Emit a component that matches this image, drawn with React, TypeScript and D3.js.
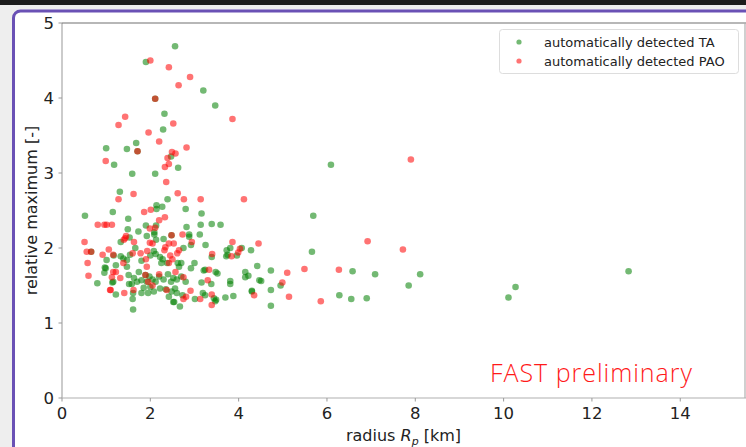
import React from "react";
import * as d3 from "d3";

// Radius [km] and relative maximum for each detected event
const taX = [
  2.56, 1.90, 3.20, 2.11, 3.47, 2.32, 2.29, 1.68, 1.00, 1.47, 1.71, 2.47, 1.18, 2.63, 1.59, 2.11, 1.31, 2.39, 6.09,
  0.52, 1.15, 2.14, 2.14, 2.27, 2.80, 3.16, 1.50, 3.14, 3.39, 3.59, 2.82, 1.90, 2.13, 1.49, 1.73, 2.09, 5.69,
  1.92, 2.09, 2.30, 2.48, 2.88, 2.88, 3.12, 1.53, 1.33, 2.13, 2.92, 3.25, 0.66, 1.66, 2.08, 2.75, 3.73, 3.81, 4.07, 4.28, 5.66, 3.39, 3.75, 3.72, 3.96,
  1.17, 1.01, 1.33, 1.54, 1.39, 1.47, 1.80, 1.22, 0.97, 0.99, 1.47, 2.00, 2.12, 2.22, 2.28, 2.38, 2.25, 2.62, 2.70, 2.65, 2.92, 3.00, 3.24, 3.21, 3.48, 3.52, 4.42, 4.73, 4.15, 6.58, 7.09, 8.11, 12.83,
  0.96, 1.51, 1.74, 1.89, 1.80, 1.92, 1.14, 0.80, 1.52, 1.58, 1.98, 2.05, 2.12, 2.20, 2.30, 2.40, 2.47, 2.52, 2.60, 2.70, 2.80, 3.16, 3.38, 3.81, 3.81, 4.22, 4.15, 4.47, 4.51, 4.95, 7.85, 10.27, 1.16, 1.70, 1.63,
  1.22, 1.61, 1.80, 1.95, 2.08, 2.22, 2.48, 2.56, 1.60, 1.61, 2.52, 2.54, 2.67, 2.73, 3.01, 3.19, 3.24, 3.44, 3.49, 3.47, 3.70, 3.88, 4.30, 4.30, 4.73, 4.73, 6.28, 6.55, 6.90, 10.11, 2.35, 2.00, 1.85, 2.60, 2.42,
];
const taY = [
  4.69, 4.48, 4.10, 3.99, 3.90, 3.79, 3.58, 3.40, 3.33, 3.32, 3.29, 3.22, 3.11, 3.07, 2.99, 2.99, 2.75, 2.65, 3.11,
  2.43, 2.48, 2.57, 2.52, 2.55, 2.52, 2.46, 2.39, 2.31, 2.32, 2.31, 2.28, 2.30, 2.30, 2.25, 2.22, 2.21, 2.43,
  2.16, 2.18, 2.12, 2.17, 2.18, 2.15, 2.18, 2.14, 2.08, 2.11, 2.04, 2.04, 1.95, 2.00, 1.96, 2.00, 1.97, 2.00, 2.00, 1.97, 1.95, 1.88, 1.91, 1.89, 1.90,
  1.90, 1.84, 1.89, 1.91, 1.86, 1.84, 1.83, 1.77, 1.74, 1.73, 1.75, 1.90, 1.92, 1.88, 1.85, 1.80, 1.80, 1.80, 1.80, 1.75, 1.73, 1.80, 1.71, 1.70, 1.68, 1.66, 1.76, 1.70, 1.68, 1.69, 1.65, 1.65, 1.69,
  1.67, 1.64, 1.68, 1.64, 1.57, 1.55, 1.54, 1.53, 1.52, 1.52, 1.62, 1.58, 1.55, 1.62, 1.58, 1.65, 1.55, 1.60, 1.58, 1.62, 1.55, 1.54, 1.52, 1.56, 1.52, 1.63, 1.61, 1.57, 1.56, 1.50, 1.50, 1.48, 1.55, 1.55, 1.60,
  1.38, 1.40, 1.40, 1.40, 1.42, 1.46, 1.42, 1.46, 1.32, 1.18, 1.28, 1.28, 1.22, 1.37, 1.32, 1.40, 1.37, 1.33, 1.31, 1.29, 1.34, 1.36, 1.43, 1.42, 1.44, 1.23, 1.37, 1.32, 1.33, 1.34, 1.45, 1.48, 1.47, 1.40, 1.35,
];
const paoX = [
  2.00, 2.42, 2.90, 2.64, 2.11, 1.43, 3.86, 1.28, 2.52, 1.96, 2.20, 1.71, 2.82, 2.49, 2.57, 2.39, 0.99, 2.42, 2.33, 2.36, 1.62, 2.62, 2.76, 3.14, 4.12, 1.28, 7.90,
  1.86, 2.01, 2.20, 2.33, 0.81, 0.96, 1.01, 1.13, 2.11, 1.99, 1.43, 1.45, 1.40, 1.63, 0.51, 2.48, 2.73, 2.42, 2.53, 2.94, 1.99, 3.86, 4.45, 6.92, 2.05,
  0.56, 0.66, 1.06, 0.92, 1.16, 1.93, 1.78, 1.60, 2.34, 2.32, 2.65, 2.61, 3.40, 4.03, 3.99, 3.84, 7.72, 0.58, 1.39, 1.90, 2.45, 2.50, 2.42, 5.10, 5.49, 6.27, 3.33, 2.57, 1.92,
  0.60, 1.16, 1.22, 1.32, 1.13, 1.89, 1.10, 1.09, 1.41, 1.62, 2.37, 2.75, 2.81, 2.91, 3.13, 3.30, 3.39, 3.39, 4.35, 4.99, 5.14, 5.86, 2.75, 2.05, 2.20, 1.95,
];
const paoY = [
  4.50, 4.41, 4.28, 4.17, 3.99, 3.75, 3.72, 3.64, 3.66, 3.54, 3.42, 3.29, 3.34, 3.28, 3.26, 3.20, 3.16, 3.12, 3.08, 2.88, 2.72, 2.73, 2.65, 2.65, 2.65, 2.65, 3.18,
  2.48, 2.51, 2.37, 2.41, 2.31, 2.31, 2.31, 2.31, 2.27, 2.26, 2.13, 2.16, 2.11, 2.08, 2.08, 2.17, 2.18, 2.06, 2.06, 2.08, 2.07, 2.08, 2.06, 2.09, 2.06,
  1.95, 1.95, 1.98, 1.91, 1.91, 1.96, 1.93, 1.93, 2.01, 1.97, 1.97, 1.93, 1.92, 1.99, 1.94, 1.89, 1.98, 1.80, 1.80, 1.85, 1.90, 1.85, 1.80, 1.67, 1.72, 1.71, 1.71, 1.68, 1.75,
  1.63, 1.68, 1.68, 1.60, 1.61, 1.64, 1.44, 1.44, 1.40, 1.44, 1.44, 1.61, 1.35, 1.43, 1.32, 1.57, 1.38, 1.24, 1.37, 1.54, 1.35, 1.29, 1.32, 1.50, 1.65, 1.55,
];
const xTicks = [0, 2, 4, 6, 8, 10, 12, 14];
const yTicks = [0, 1, 2, 3, 4, 5];
const seriesNames = ["automatically detected TA", "automatically detected PAO"];
const seriesColors = ["#008000", "#ff0000"];

const W = 746;
const H = 447;
const left = 62;
const right = 746.5;
const top = 23;
const bottom = 398;

export default function App() {
  const x = d3.scaleLinear().domain([0, 15.5]).range([left, right]);
  const y = d3.scaleLinear().domain([0, 5]).range([bottom, top]);
  const series = [
    { pts: d3.zip(taX, taY), color: seriesColors[0] },
    { pts: d3.zip(paoX, paoY), color: seriesColors[1] },
  ];
  const font = "'DejaVu Sans', sans-serif";

  return (
    <svg
      width={W}
      height={H}
      style={{ position: "absolute", left: 0, top: 0, display: "block" }}
      fontFamily={font}
    >
      {/* page frame */}
      <rect x={0} y={0} width={W} height={H} fill="#eeeeee" />
      <rect x={0} y={0} width={W} height={5} fill="#1c1c1c" />
      <rect x={13.5} y={11} width={W + 20} height={H + 20} rx={7} fill="#ffffff" stroke="#6a51b5" strokeWidth={3} />

      {/* spines */}
      <line x1={left} x2={left} y1={top} y2={bottom} stroke="#a8a8a8" strokeWidth={1.2} />
      <line x1={left} x2={right} y1={bottom} y2={bottom} stroke="#b0b0b0" strokeWidth={1.2} />
      <line x1={left} x2={right} y1={top} y2={top} stroke="#707070" strokeWidth={1.2} />
      <line x1={745} x2={745} y1={top} y2={bottom} stroke="#b0b0b0" strokeWidth={1.2} />

      {/* x ticks */}
      {xTicks.map((t) => (
        <g key={`x${t}`}>
          <line x1={x(t)} x2={x(t)} y1={bottom} y2={bottom + 3.5} stroke="#999" />
          <text x={x(t)} y={419} fontSize={16.5} textAnchor="middle" fill="#222">
            {t}
          </text>
        </g>
      ))}
      {/* y ticks */}
      {yTicks.map((t) => (
        <g key={`y${t}`}>
          <line x1={left - 3.5} x2={left} y1={y(t)} y2={y(t)} stroke="#999" />
          <text x={54} y={y(t) + 6} fontSize={16.5} textAnchor="end" fill="#222">
            {t}
          </text>
        </g>
      ))}

      {/* axis labels */}
      <text x={(left + 745) / 2} y={441} fontSize={16} textAnchor="middle" fill="#222">
        radius <tspan fontStyle="italic">R</tspan>
        <tspan fontStyle="italic" fontSize={11} dy={4}>p</tspan>
        <tspan dy={-4}> [km]</tspan>
      </text>
      <text
        transform={`translate(37,${(top + bottom) / 2}) rotate(-90)`}
        fontSize={16}
        textAnchor="middle"
        fill="#222"
      >
        relative maximum [-]
      </text>

      {/* data */}
      {series.map((s, i) => (
        <g key={i}>
          {s.pts.map(([a, b], j) => (
            <circle key={j} cx={x(a)} cy={y(b)} r={3.3} fill={s.color} fillOpacity={0.55} />
          ))}
        </g>
      ))}

      {/* legend */}
      <rect x={499.5} y={29.5} width={239} height={44} rx={3} fill="#ffffff" fillOpacity={0.85} stroke="#dddddd" />
      {seriesNames.map((n, i) => (
        <g key={n}>
          <circle cx={519} cy={42 + i * 19} r={2.6} fill={seriesColors[i]} fillOpacity={0.55} />
          <text x={544} y={46.5 + i * 19} fontSize={13} fill="#222">
            {n}
          </text>
        </g>
      ))}

      <text
        x={490}
        y={382}
        fontSize={25}
        fill="#ff1a1a"
        fontFamily="'Open Sans', sans-serif"
        fontWeight={300}
        textLength={202}
        lengthAdjust="spacing"
      >
        FAST preliminary
      </text>
    </svg>
  );
}
